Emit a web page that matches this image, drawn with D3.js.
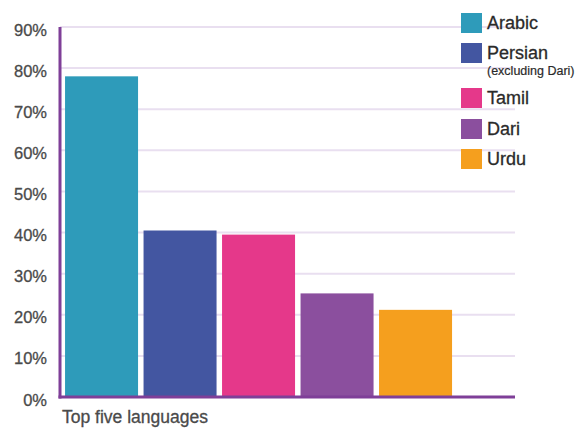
<!DOCTYPE html>
<html>
<head>
<meta charset="utf-8">
<script src="https://cdnjs.cloudflare.com/ajax/libs/d3/7.8.5/d3.min.js"></script>
<style>
  body { margin: 0; background: #fff; }
  text { font-family: "Liberation Sans", Arial, sans-serif; }
</style>
</head>
<body>
<div id="chart"></div>
<script>
// data
const languages = ['Arabic', 'Persian', 'Tamil', 'Dari', 'Urdu'];
const subLabels = ['', '(excluding Dari)', '', '', ''];
const shares = [78, 40.5, 39.5, 25.2, 21.2];
const colours = ['#2e9bba', '#4356a1', '#e5388a', '#8b4f9e', '#f59f1e'];
const yTicks = [0, 10, 20, 30, 40, 50, 60, 70, 80, 90];
const xTitle = 'Top five languages';

const width = 587, height = 428;

const svg = d3.select('#chart').append('svg')
    .attr('width', width)
    .attr('height', height);

// scales
const y = d3.scaleLinear().domain([0, 90]).range([397, 27]);
const x = d3.scaleBand()
    .domain(languages)
    .range([62.3, 454.8])
    .paddingInner(0.07)
    .paddingOuter(0.035);

const axisLeftX = 60, axisRightX = 515;

// gridlines
svg.append('g')
    .selectAll('line')
    .data(yTicks.filter(d => d > 0))
    .enter().append('line')
    .attr('x1', axisLeftX)
    .attr('x2', axisRightX)
    .attr('y1', d => y(d))
    .attr('y2', d => y(d))
    .style('stroke', '#e9dff0')
    .style('stroke-width', 2);

// y tick labels
svg.append('g')
    .selectAll('text')
    .data(yTicks)
    .enter().append('text')
    .attr('x', 47)
    .attr('y', d => y(d) + 8.5)
    .attr('text-anchor', 'end')
    .style('font-size', '16.5px')
    .style('fill', '#4a4a4a')
    .style('stroke', '#4a4a4a')
    .style('stroke-width', 0.3)
    .text(d => d + '%');

// bars
svg.selectAll('.bar')
    .data(shares)
    .enter().append('rect')
    .attr('class', 'bar')
    .attr('x', (d, i) => x(languages[i]))
    .attr('y', d => y(d))
    .attr('width', x.bandwidth())
    .attr('height', d => y(0) - y(d))
    .style('fill', (d, i) => colours[i]);

// axis lines
svg.append('line')
    .attr('x1', axisLeftX).attr('x2', axisLeftX)
    .attr('y1', y(90)).attr('y2', y(0) + 1.5)
    .style('stroke', '#7f3f98')
    .style('stroke-width', 3);

svg.append('line')
    .attr('x1', axisLeftX - 1.5).attr('x2', axisRightX)
    .attr('y1', y(0)).attr('y2', y(0))
    .style('stroke', '#7f3f98')
    .style('stroke-width', 3);

// x title
svg.append('text')
    .attr('x', 62)
    .attr('y', 423)
    .style('font-size', '17.5px')
    .style('fill', '#4a4a4a')
    .style('stroke', '#4a4a4a')
    .style('stroke-width', 0.3)
    .text(xTitle);

// legend
const legendY = [13, 43, 88, 119, 149];
const legend = svg.append('g')
    .selectAll('g')
    .data(languages)
    .enter().append('g')
    .attr('transform', (d, i) => 'translate(461,' + legendY[i] + ')');

legend.append('rect')
    .attr('width', 21)
    .attr('height', 20)
    .style('fill', (d, i) => colours[i]);

legend.append('text')
    .attr('x', 26)
    .attr('y', 16)
    .style('font-size', '18px')
    .style('fill', '#2a2a2a')
    .style('stroke', '#2a2a2a')
    .style('stroke-width', 0.3)
    .text(d => d);

legend.append('text')
    .attr('x', 26)
    .attr('y', 32)
    .style('font-size', '12.5px')
    .style('fill', '#2a2a2a')
    .style('stroke', '#2a2a2a')
    .style('stroke-width', 0.2)
    .text((d, i) => subLabels[i]);
</script>
</body>
</html>
